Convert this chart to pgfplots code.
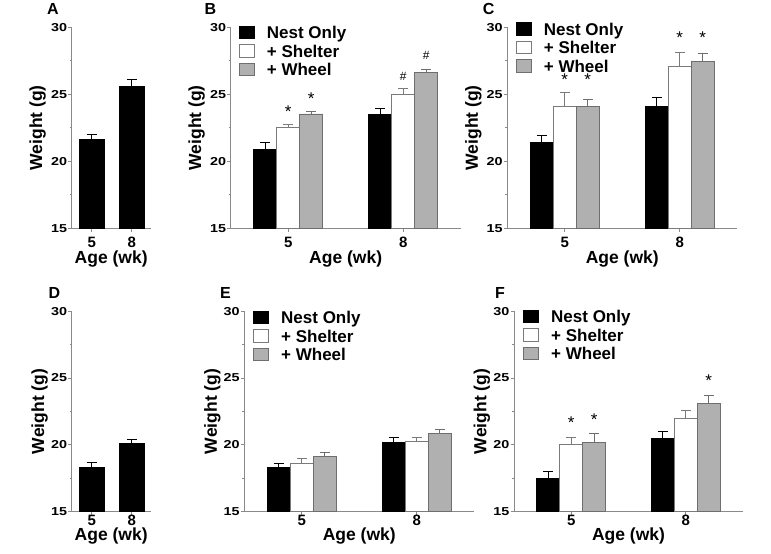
\documentclass[border=0pt]{standalone}
\usepackage{pgfplots}
\pgfplotsset{compat=1.18}
\usepackage{fontspec}
\setmainfont{Liberation Sans}
\definecolor{axgray}{HTML}{8A8A8A}
\definecolor{barfill}{HTML}{B0B0B0}
\definecolor{baredge}{HTML}{6E6E6E}
\definecolor{whiteedge}{HTML}{7A7A7A}
\newcommand{\fs}[1]{\fontsize{#1bp}{#1bp}\selectfont\bfseries}
\newcommand{\fr}[1]{\fontsize{#1bp}{#1bp}\selectfont}
\pgfplotsset{
  panel/.style={
    scale only axis,
    ymin=15, ymax=30,
    ytick={15,20,25,30}, minor ytick={17.5,22.5,27.5},
    axis x line*=bottom, axis y line*=left,
    axis line style={axgray, line width=0.9bp, -},
    tick align=outside,
    major tick length=3.5bp, minor tick length=2bp,
    tick style={axgray, line width=0.9bp},
    /pgf/number format/assume math mode=true,
    yticklabel={\scalebox{1.25}[1]{\pgfmathprintnumber{\tick}}},
    yticklabel style={font=\fs{11.5}, inner sep=1bp},
    xticklabel style={font=\fs{15}, anchor=base},
    ylabel={Weight (g)}, xlabel={Age (wk)},
    every axis y label/.style={font=\fs{17.5}, rotate=90, anchor=center},
    every axis x label/.style={font=\fs{17.5}, anchor=base},
  },
  toprow/.style={
    height=201bp,
    every axis y label/.append style={at={([xshift=-34bp]axis description cs:0,0.5)}},
    every axis x label/.append style={at={([yshift=-35bp]axis description cs:0.5,0)}},
    xticklabel style={yshift=-15.5bp},
  },
  botrow/.style={
    height=200.5bp,
    every axis y label/.append style={at={([xshift=-32bp]axis description cs:0,0.5)}},
    every axis x label/.append style={at={([yshift=-29bp]axis description cs:0.5,0)}},
    xticklabel style={yshift=-10.5bp},
  },
  three/.style={xmin=3.5, xmax=9.5, xtick={5,8}, width=230bp},
  two/.style={xmin=-0.5, xmax=1.475, xtick={0,1}, xticklabels={5,8}, width=79bp},
  leg/.style 2 args={legend style={at={(axis description cs:0,1)}, anchor=north west,
      xshift=#1, yshift=#2,
      draw=none, fill=none, inner sep=0bp, outer sep=0bp, row sep=0bp, column sep=0bp,
      font=\fs{17}, cells={anchor=base west},
      nodes={inner sep=0bp, text height=12.3bp, text depth=5.5bp}}},
  limg/.style={legend image code/.code={\draw[##1, line width=0.9bp] (0bp,0bp) rectangle (15bp,12.5bp); \path (27bp,0bp);}},
  errb/.style={error bars/.cd, y dir=plus, y explicit,
     error bar style={#1, line width=0.9bp},
     error mark options={rotate=90, mark size=5bp, #1, line width=0.9bp}},
  bk/.style={ybar, bar width=#1, bar shift=0, fill=black, draw=black, line width=0.9bp, limg},
  wh/.style={ybar, bar width=#1, bar shift=0, fill=white, draw=whiteedge, line width=0.9bp, limg},
  gr/.style={ybar, bar width=#1, bar shift=0, fill=barfill, draw=baredge, line width=0.9bp, limg},
  star/.style={forget plot, only marks, mark=text, text mark={*}, text mark as node=true,
     text mark style={font=\fr{17}, text=black, anchor=center, inner sep=0bp}},
  hash/.style={forget plot, only marks, mark=text, text mark={\#}, text mark as node=true,
     text mark style={font=\fr{12}, text=black, anchor=center, inner sep=0bp}},
}
\begin{document}
\begin{tikzpicture}
\useasboundingbox (0,0) rectangle (771bp,554bp);
% ---------- A ----------
\begin{axis}[panel, toprow, two, at={(71.7bp,325.7bp)}, anchor=south west]
\addplot[bk=0.625, errb=black] coordinates {(0,21.65) +- (0,0.38) (1,25.55) +- (0,0.53)};
\end{axis}
% ---------- B ----------
\begin{axis}[panel, toprow, three, at={(230.7bp,325.7bp)}, anchor=south west, leg={8.3bp}{1.3bp}]
\addplot[bk=0.6, errb=black] coordinates {(4.4,20.86) +- (0,0.57) (7.4,23.47) +- (0,0.48)};
\addlegendentry{Nest Only}
\addplot[wh=0.6, errb=whiteedge] coordinates {(5,22.55) +- (0,0.18) (8,25.02) +- (0,0.38)};
\addlegendentry{+ Shelter}
\addplot[gr=0.6, errb=baredge] coordinates {(5.6,23.53) +- (0,0.22) (8.6,26.6) +- (0,0.28)};
\addlegendentry{+ Wheel}
\addplot[star] coordinates {(5,23.7) (5.6,24.7)};
\addplot[hash] coordinates {(8,26.37) (8.6,27.93)};
\end{axis}
% ---------- C ----------
\begin{axis}[panel, toprow, three, at={(507.3bp,325.7bp)}, anchor=south west, leg={8.7bp}{5bp}]
\addplot[bk=0.6, errb=black] coordinates {(4.4,21.37) +- (0,0.55) (7.4,24.1) +- (0,0.65)};
\addlegendentry{Nest Only}
\addplot[wh=0.6, errb=whiteedge] coordinates {(5,24.1) +- (0,1.02) (8,27.1) +- (0,1.04)};
\addlegendentry{+ Shelter}
\addplot[gr=0.6, errb=baredge] coordinates {(5.6,24.1) +- (0,0.54) (8.6,27.47) +- (0,0.55)};
\addlegendentry{+ Wheel}
\addplot[star] coordinates {(5,26.13) (5.6,26.13) (8,29.26) (8.6,29.26)};
\end{axis}
% ---------- D ----------
\begin{axis}[panel, botrow, two, at={(71.7bp,42.3bp)}, anchor=south west]
\addplot[bk=0.625, errb=black] coordinates {(0,18.3) +- (0,0.38) (1,20.08) +- (0,0.32)};
\end{axis}
% ---------- E ----------
\begin{axis}[panel, botrow, three, at={(244.3bp,42.3bp)}, anchor=south west, leg={9bp}{0.3bp}]
\addplot[bk=0.6, errb=black] coordinates {(4.4,18.34) +- (0,0.29) (7.4,20.15) +- (0,0.4)};
\addlegendentry{Nest Only}
\addplot[wh=0.6, errb=whiteedge] coordinates {(5,18.63) +- (0,0.35) (8,20.25) +- (0,0.27)};
\addlegendentry{+ Shelter}
\addplot[gr=0.6, errb=baredge] coordinates {(5.6,19.13) +- (0,0.3) (8.6,20.85) +- (0,0.3)};
\addlegendentry{+ Wheel}
\end{axis}
% ---------- F ----------
\begin{axis}[panel, botrow, three, at={(514bp,42.3bp)}, anchor=south west, width=229bp, leg={9.3bp}{1.3bp}]
\addplot[bk=0.6, errb=black] coordinates {(4.4,17.48) +- (0,0.5) (7.4,20.5) +- (0,0.5)};
\addlegendentry{Nest Only}
\addplot[wh=0.6, errb=whiteedge] coordinates {(5,20.0) +- (0,0.55) (8,22.0) +- (0,0.58)};
\addlegendentry{+ Shelter}
\addplot[gr=0.6, errb=baredge] coordinates {(5.6,20.2) +- (0,0.63) (8.6,23.13) +- (0,0.53)};
\addlegendentry{+ Wheel}
\addplot[star] coordinates {(5,21.63) (5.6,21.88) (8.6,24.8)};
\end{axis}
% ---------- panel letters ----------
\node[anchor=base west, inner sep=0, font=\fs{16}] at (47bp,539bp) {A};
\node[anchor=base west, inner sep=0, font=\fs{16}] at (204.3bp,539bp) {B};
\node[anchor=base west, inner sep=0, font=\fs{16}] at (482.7bp,539bp) {C};
\node[anchor=base west, inner sep=0, font=\fs{16}] at (48.3bp,255.5bp) {D};
\node[anchor=base west, inner sep=0, font=\fs{16}] at (220bp,255.5bp) {E};
\node[anchor=base west, inner sep=0, font=\fs{16}] at (495bp,255.5bp) {F};
\end{tikzpicture}
\end{document}
